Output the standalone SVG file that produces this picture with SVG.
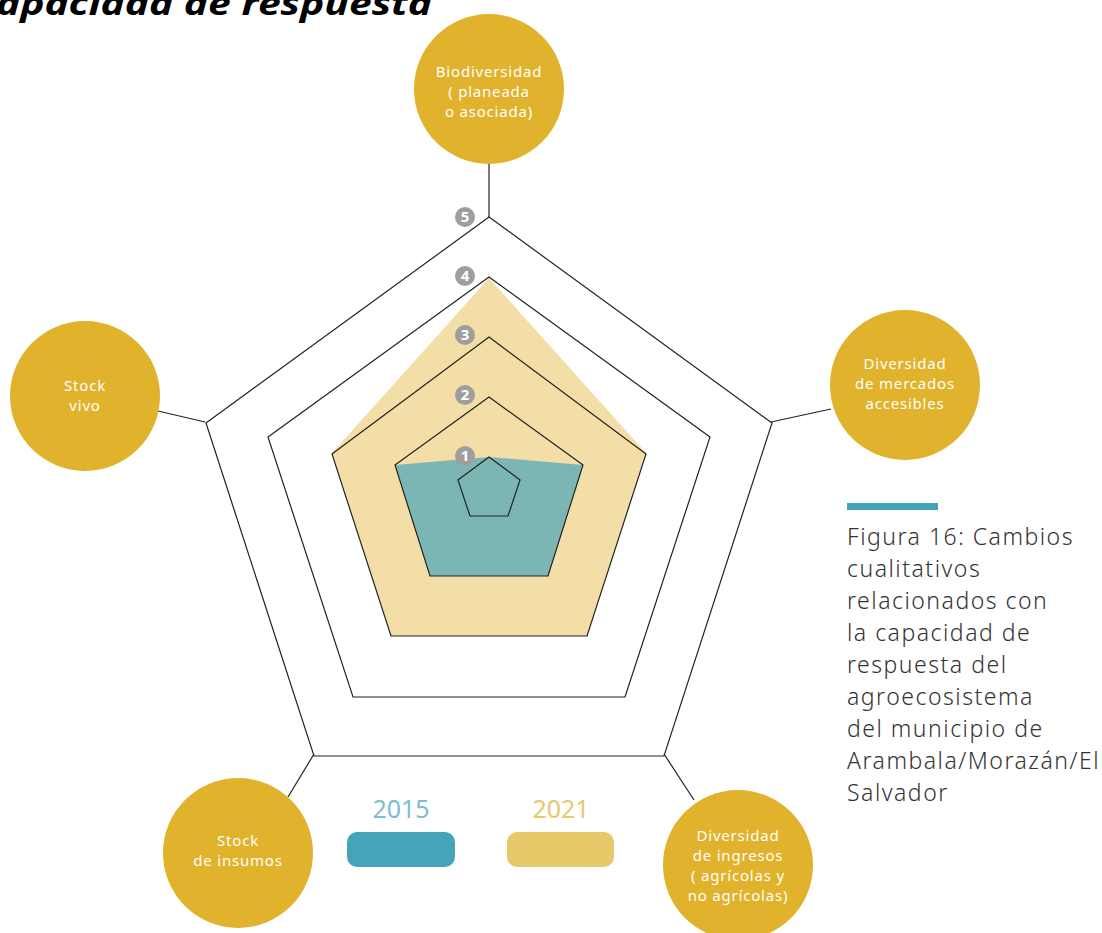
<svg xmlns="http://www.w3.org/2000/svg" width="1102" height="933" viewBox="0 0 1102 933">
<style>
.ring{fill:none;stroke:#222;stroke-width:1.2}
.axis{stroke:#222;stroke-width:1.2;fill:none}
.node{fill:#E1B22B}
.nt{font-family:"Noto Sans","Liberation Sans",sans-serif;font-size:15px;letter-spacing:0.8px;fill:#fff;text-anchor:middle}
.mk{fill:#9E9E9E}
.mt{font-family:"Noto Sans","Liberation Sans",sans-serif;font-size:15px;font-weight:bold;fill:#fff;text-anchor:middle}
.cap{font-family:"Noto Sans","Liberation Sans",sans-serif;font-size:23px;letter-spacing:1.5px;font-weight:300;fill:#333}
</style>
<rect width="1102" height="933" fill="#fff"/>
<text x="-4" y="15" textLength="436" lengthAdjust="spacingAndGlyphs" font-family="'Noto Sans','Liberation Sans',sans-serif" font-size="33" font-weight="bold" font-style="italic" fill="#000">apacidad de respuesta</text>
<g id="connectors">
<line class="axis" x1="489" y1="217" x2="489" y2="163"/>
<line class="axis" x1="205" y1="422" x2="158" y2="411"/>
<line class="axis" x1="771" y1="422" x2="831" y2="409"/>
<line class="axis" x1="314" y1="754" x2="288" y2="797"/>
<line class="axis" x1="664" y1="754" x2="694" y2="800"/>
</g>
<g id="data">
<polygon fill="#F3DEA7" points="489,278 646,453 587,636 391,636 332,453"/>
<polygon fill="#7BB6B4" points="489,457 583,465 548,576 430,576 395,465"/>
</g>
<g id="grid">
<polygon class="ring" points="489,217 772,423 664,756 314,756 206,423"/>
<polygon class="ring" points="489,277 710,437 625,697 353,697 268,437"/>
<polygon class="ring" points="489,337 646,454 587,636 391,636 332,454"/>
<polygon class="ring" points="489,397 583,465 548,576 430,576 395,465"/>
<polygon class="ring" points="489,457 520,480 508,516 470,516 458,480"/>
</g>
<g id="markers">
<circle class="mk" cx="465" cy="217" r="10"/><text class="mt" x="465" y="222">5</text>
<circle class="mk" cx="465" cy="276" r="10"/><text class="mt" x="465" y="281">4</text>
<circle class="mk" cx="465" cy="335" r="10"/><text class="mt" x="465" y="340">3</text>
<circle class="mk" cx="465" cy="395" r="10"/><text class="mt" x="465" y="400">2</text>
<circle class="mk" cx="465" cy="456" r="10"/><text class="mt" x="465" y="461">1</text>
</g>
<g id="node-biodiversidad">
<circle class="node" cx="489" cy="89" r="75"/>
<text class="nt" x="489" y="77">Biodiversidad</text>
<text class="nt" x="489" y="97">( planeada</text>
<text class="nt" x="489" y="117">o asociada)</text>
</g>
<g id="node-stock-vivo">
<circle class="node" cx="85" cy="396" r="75"/>
<text class="nt" x="85" y="391">Stock</text>
<text class="nt" x="85" y="411">vivo</text>
</g>
<g id="node-mercados">
<circle class="node" cx="905" cy="385" r="75"/>
<text class="nt" x="905" y="369">Diversidad</text>
<text class="nt" x="905" y="389">de mercados</text>
<text class="nt" x="905" y="409">accesibles</text>
</g>
<g id="node-insumos">
<circle class="node" cx="238" cy="853" r="75"/>
<text class="nt" x="238" y="846">Stock</text>
<text class="nt" x="238" y="866">de insumos</text>
</g>
<g id="node-ingresos">
<circle class="node" cx="738" cy="865" r="75"/>
<text class="nt" x="738" y="841">Diversidad</text>
<text class="nt" x="738" y="861">de ingresos</text>
<text class="nt" x="738" y="881">( agrícolas y</text>
<text class="nt" x="738" y="901">no agrícolas)</text>
</g>
<g id="legend">
<text x="401" y="818" text-anchor="middle" font-family="'Noto Sans','Liberation Sans',sans-serif" font-size="25" fill="#7BBFCF">2015</text>
<rect x="347" y="832" width="108" height="35" rx="10" fill="#45A4BA"/>
<text x="561" y="818" text-anchor="middle" font-family="'Noto Sans','Liberation Sans',sans-serif" font-size="25" fill="#E8C96A">2021</text>
<rect x="507" y="832" width="107" height="35" rx="10" fill="#E8C96A"/>
</g>
<g id="caption">
<rect x="847" y="503" width="91" height="7" fill="#45A4BA"/>
<text class="cap" x="847" y="545">Figura 16: Cambios</text>
<text class="cap" x="847" y="577">cualitativos</text>
<text class="cap" x="847" y="609">relacionados con</text>
<text class="cap" x="847" y="641">la capacidad de</text>
<text class="cap" x="847" y="673">respuesta del</text>
<text class="cap" x="847" y="705">agroecosistema</text>
<text class="cap" x="847" y="737">del municipio de</text>
<text class="cap" x="847" y="769">Arambala/Morazán/El</text>
<text class="cap" x="847" y="801">Salvador</text>
</g>
</svg>
